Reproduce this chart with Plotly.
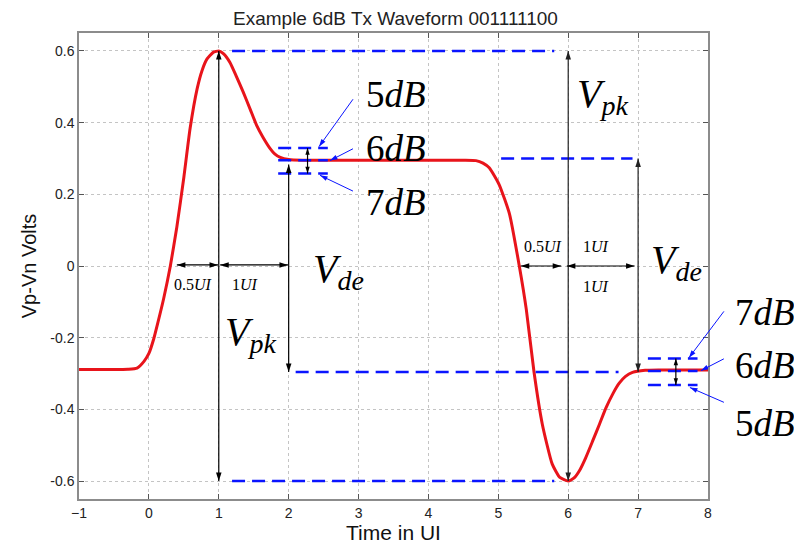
import math
import plotly.graph_objects as go

# ---- data ----
t_ui = [-1.0, -0.5, -0.3, -0.17, -0.07, 0.0, 0.07, 0.117, 0.21, 0.307, 0.40, 0.50, 0.59, 0.69,
        0.76, 0.83, 0.92, 1.0, 1.07, 1.16, 1.25, 1.35, 1.45, 1.54, 1.63, 1.73, 1.80, 1.88, 2.0,
        2.2, 3.0, 4.0, 4.5, 4.68, 4.78, 4.87, 5.01, 5.16, 5.30, 5.40, 5.51, 5.63, 5.77, 5.88,
        6.0, 6.08, 6.16, 6.25, 6.35, 6.45, 6.54, 6.64, 6.73, 6.82, 6.92, 7.1, 7.3, 8.0]
v_diff = [-0.289, -0.289, -0.288, -0.285, -0.266, -0.244, -0.203, -0.167, -0.092, 0.0, 0.109,
          0.247, 0.384, 0.494, 0.545, 0.577, 0.596, 0.6, 0.592, 0.568, 0.53, 0.485, 0.437, 0.393,
          0.36, 0.329, 0.313, 0.303, 0.297, 0.295, 0.295, 0.295, 0.295, 0.294, 0.287, 0.274,
          0.228, 0.145, 0.0, -0.121, -0.295, -0.442, -0.552, -0.59, -0.6, -0.592, -0.571, -0.535,
          -0.488, -0.44, -0.396, -0.356, -0.327, -0.308, -0.297, -0.291, -0.29, -0.29]

x_ticks = [-1, 0, 1, 2, 3, 4, 5, 6, 7, 8]
y_ticks = [-0.6, -0.4, -0.2, 0, 0.2, 0.4, 0.6]
y_tick_text = ["-0.6", "-0.4", "-0.2", "0", "0.2", "0.4", "0.6"]

v_pk = 0.6
v_de_hi = 0.3
v_de_lo = -0.296
db_levels_hi = [0.329, 0.295, 0.258]      # 5dB, 6dB, 7dB
db_levels_lo = [-0.258, -0.293, -0.332]   # 7dB, 6dB, 5dB

X_RANGE = [-1, 8]
Y_RANGE = [-0.65, 0.65]
PLOT_W, PLOT_H = 629, 472

fig = go.Figure()

fig.add_trace(go.Scatter(x=t_ui, y=v_diff, mode="lines",
                         line=dict(color="#e8141b", width=3, shape="spline", smoothing=0.5),
                         hoverinfo="skip", showlegend=False))

BLUE = "#0a14ff"
DASH = "13px,7px"

def hline(y, x0, x1):
    fig.add_trace(go.Scatter(x=[x0, x1], y=[y, y], mode="lines",
                             line=dict(color=BLUE, width=2.5, dash=DASH),
                             hoverinfo="skip", showlegend=False))

hline(v_pk, 1.19, 5.8)
hline(-v_pk, 1.19, 5.8)
hline(v_de_hi, 5.04, 6.92)
hline(v_de_lo, 2.1, 6.72)
for lv in db_levels_hi:
    hline(lv, 1.85, 2.56)
for lv in db_levels_lo:
    hline(lv, 7.14, 7.85)

# ---- black double-headed arrows (line + arrow-head markers) ----
def darrow(x0, y0, x1, y1, color="#000000", head=9):
    vertical = (x0 == x1)
    if vertical:
        a1 = 0 if y1 > y0 else 180
    else:
        a1 = 90 if x1 > x0 else 270
    a0 = (a1 + 180) % 360
    fig.add_trace(go.Scatter(x=[x0, x1], y=[y0, y1], mode="lines",
                             line=dict(color=color, width=1.2),
                             hoverinfo="skip", showlegend=False))
    fig.add_trace(go.Scatter(x=[x0, x1], y=[y0, y1], mode="markers", cliponaxis=False,
                             marker=dict(symbol="arrow", size=head, angle=[a0, a1], color=color,
                                         line=dict(width=0)),
                             hoverinfo="skip", showlegend=False))

darrow(1.0, -v_pk, 1.0, v_pk)
darrow(2.0, v_de_lo, 2.0, 0.283)
darrow(6.0, -v_pk, 6.0, v_pk, color="#222222")
darrow(7.0, v_de_lo, 7.0, v_de_hi, color="#222222")
darrow(0.40, 0.003, 0.99, 0.003)
darrow(1.02, 0.003, 1.99, 0.003)
darrow(5.32, 0.0, 5.9, 0.0)
darrow(5.98, 0.0, 6.95, 0.0)
darrow(2.27, db_levels_hi[2], 2.27, db_levels_hi[0], head=7)
darrow(7.54, db_levels_lo[2], 7.54, db_levels_lo[0], head=7)

# ---- blue pointer arrows: tip in data coords, tail offset in pixels ----
shapes = []

def barrow(x, y, dxp, dyp):
    px = (x - X_RANGE[0]) / (X_RANGE[1] - X_RANGE[0])
    py = (y - Y_RANGE[0]) / (Y_RANGE[1] - Y_RANGE[0])
    tx = px + dxp / PLOT_W
    ty = py - dyp / PLOT_H
    shapes.append(dict(type="line", xref="paper", yref="paper", x0=tx, y0=ty, x1=px, y1=py,
                       line=dict(color=BLUE, width=1)))
    ang = math.degrees(math.atan2(-dxp, dyp))
    fig.add_trace(go.Scatter(x=[x], y=[y], mode="markers", cliponaxis=False,
                             marker=dict(symbol="arrow", size=8, angle=[ang], color=BLUE,
                                         line=dict(width=0)),
                             hoverinfo="skip", showlegend=False))

barrow(2.434, 0.333, 34, -48)
barrow(2.591, 0.294, 23, -12)
barrow(2.448, 0.253, 33, 16)
barrow(7.727, -0.256, 35, -47)
barrow(7.898, -0.292, 23, -12)
barrow(7.741, -0.339, 34, 15)

ann = []
SERIF = "Liberation Serif"

def label(x, y, txt, size, xref="x", yref="y", xanchor="left"):
    ann.append(dict(x=x, y=y, xref=xref, yref=yref, text=txt, showarrow=False,
                    xanchor=xanchor, yanchor="middle",
                    font=dict(family=SERIF, size=size, color="#000000")))

label(3.08, 0.479, "5<i>dB</i>", 37)
label(3.08, 0.328, "6<i>dB</i>", 37)
label(3.08, 0.176, "7<i>dB</i>", 37)
label(1.0397, 0.4004, "7<i>dB</i>", 37, xref="paper", yref="paper")
label(1.0397, 0.286, "6<i>dB</i>", 37, xref="paper", yref="paper")
label(1.0397, 0.163, "5<i>dB</i>", 37, xref="paper", yref="paper")

label(1.06, -0.19, "<i>V</i><sub><i>pk</i></sub>", 40)
label(6.096, 0.475, "<i>V</i><sub><i>pk</i></sub>", 40)
label(2.32, -0.015, "<i>V</i><sub><i>de</i></sub>", 40)
label(7.15, 0.012, "<i>V</i><sub><i>de</i></sub>", 40)

label(0.624, -0.052, "0.5<i>UI</i>", 16, xanchor="center")
label(1.375, -0.052, "1<i>UI</i>", 16, xanchor="center")
label(5.638, 0.055, "0.5<i>UI</i>", 16, xanchor="center")
label(6.396, 0.055, "1<i>UI</i>", 16, xanchor="center")
label(6.396, -0.058, "1<i>UI</i>", 16, xanchor="center")

SANS = "Liberation Sans"
axis_common = dict(showgrid=True, gridcolor="#c4c4c4", griddash="dot", gridwidth=1,
                   showline=True, linecolor="#8c8c8c", linewidth=1.5, mirror="ticks",
                   ticks="inside", ticklen=5, tickcolor="#555555", zeroline=False,
                   tickfont=dict(family=SANS, size=14, color="#222222"))

fig.update_layout(
    width=794, height=541,
    margin=dict(l=71, r=94, t=25, b=44),
    paper_bgcolor="white", plot_bgcolor="white",
    title=dict(text="Example 6dB Tx Waveform 001111100", x=0.488, xanchor="center",
               y=0.993, yanchor="top", yref="container", pad=dict(t=0, b=0),
               font=dict(family=SANS, size=19, color="#222222")),
    xaxis=dict(range=X_RANGE, tickvals=x_ticks, **axis_common,
               title=dict(text="Time in UI", standoff=2,
                          font=dict(family=SANS, size=21, color="#111111"))),
    yaxis=dict(range=Y_RANGE, tickvals=y_ticks, ticktext=y_tick_text, **axis_common,
               title=dict(text="Vp-Vn Volts", standoff=8,
                          font=dict(family=SANS, size=20, color="#111111"))),
    annotations=ann,
    shapes=shapes,
)

fig.write_html("out.html")
